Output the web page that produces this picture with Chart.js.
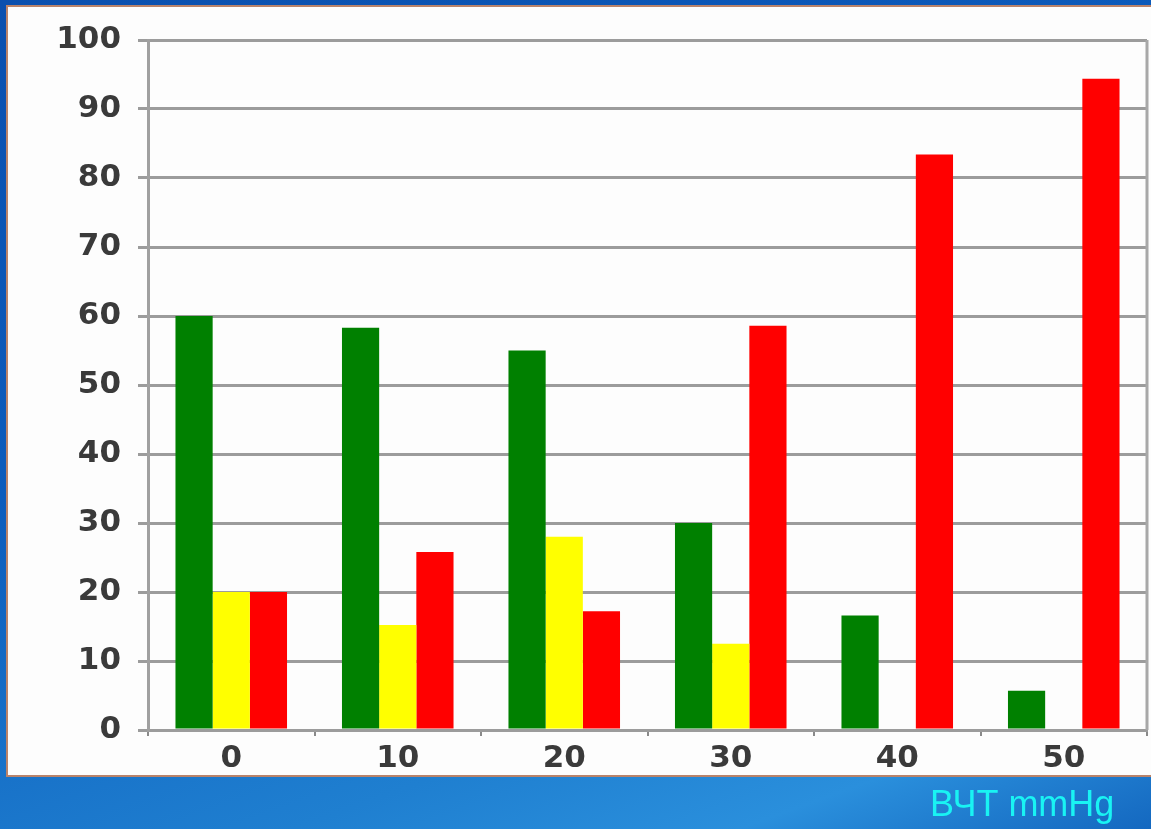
<!DOCTYPE html>
<html>
<head>
<meta charset="utf-8">
<script src="https://cdn.jsdelivr.net/npm/chart.js@4/dist/chart.umd.min.js"></script>
<style>
  html, body { margin: 0; padding: 0; }
  body {
    width: 1151px; height: 829px; overflow: hidden; position: relative;
    background: linear-gradient(160deg, #0a4fae 0%, #0c5cbc 40%, #1f7fd0 75%, #2a8fdc 88%, #1468c0 100%);
  }
  #panel {
    position: absolute; left: 6px; top: 5px; width: 1150px; height: 768px;
    background: #fdfdfd; border: 2px solid #b9836a; border-right: none;
  }
  #chart { position: absolute; left: 0; top: 0; }
  #unit {
    position: absolute; left: 930px; top: 784px;
    font-family: "Liberation Sans", Arial, sans-serif; font-size: 36px;
    color: #19f3f3; line-height: 40px; white-space: nowrap;
  }
</style>
</head>
<body>
<div id="panel"></div>
<canvas id="chart" width="1151" height="829"></canvas>
<div id="unit">ВЧТ mmHg</div>
<script>
// Categories along the x axis
const categories = ['0', '10', '20', '30', '40', '50'];

// Series values (percent)
const greenValues  = [60, 58.3, 55, 30, 16.6, 5.7];
const yellowValues = [20, 15.2, 28, 12.5, null, null];
const redValues    = [20, 25.8, 17.2, 58.6, 83.4, 94.4];

// Value axis ticks
const yMin = 0;
const yMax = 100;
const yStep = 10;

const gridGray = '#9c9c9c';
const labelFont = { family: '"DejaVu Sans", sans-serif', size: 31, weight: 'bold' };

// Frame line on the right side of the plot area
const rightFrame = {
  id: 'rightFrame',
  afterDraw(chart) {
    const { ctx, chartArea } = chart;
    ctx.save();
    ctx.strokeStyle = '#a8a8a8';
    ctx.lineWidth = 3;
    ctx.beginPath();
    ctx.moveTo(chartArea.right, chartArea.top);
    ctx.lineTo(chartArea.right, chartArea.bottom);
    ctx.stroke();
    ctx.restore();
  }
};

new Chart(document.getElementById('chart'), {
  type: 'bar',
  data: {
    labels: categories,
    datasets: [
      { data: greenValues,  backgroundColor: '#008000' },
      { data: yellowValues, backgroundColor: '#ffff00' },
      { data: redValues,    backgroundColor: '#ff0000' }
    ]
  },
  options: {
    responsive: false,
    devicePixelRatio: 1,
    animation: false,
    layout: { padding: { top: 40, right: 4, left: 0, bottom: 0 } },
    plugins: { legend: { display: false }, tooltip: { enabled: false } },
    datasets: { bar: { categoryPercentage: 0.67, barPercentage: 1.0, borderWidth: 0 } },
    scales: {
      x: {
        grid: { display: true, drawOnChartArea: false, drawTicks: true, tickLength: 6, color: '#8a8a8a', lineWidth: 2 },
        border: { display: true, color: gridGray, width: 3 },
        ticks: { color: '#3a3a3a', font: labelFont, padding: 4 },
        afterFit(scale) { scale.height = 99; }
      },
      y: {
        min: yMin, max: yMax,
        grid: { color: gridGray, lineWidth: 3, tickLength: 10, drawTicks: true },
        border: { display: true, color: '#a0a0a0', width: 3 },
        ticks: { stepSize: yStep, color: '#3a3a3a', font: labelFont, padding: 17 },
        afterFit(scale) { scale.width = 148; }
      }
    }
  },
  plugins: [rightFrame]
});
</script>
</body>
</html>
